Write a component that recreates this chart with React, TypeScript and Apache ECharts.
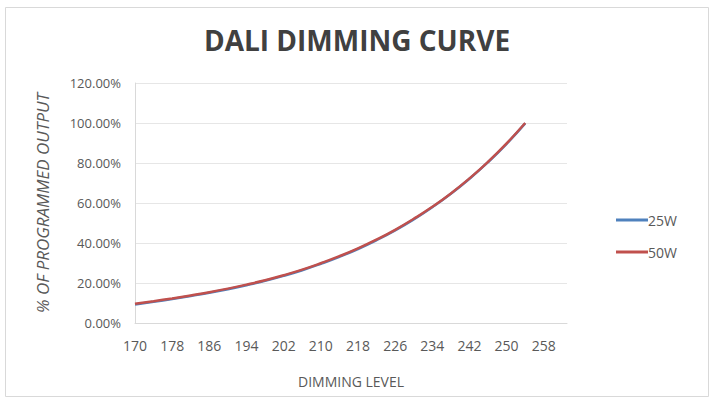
import React, { useEffect, useRef } from "react";
import * as echarts from "echarts";

const levels: string[] = [];
for (let n = 170; n <= 263; n++) levels.push(String(n));

const pointLevels = [170, 174, 178, 182, 186, 190, 194, 198, 202, 206, 210, 214, 218, 222, 226, 230, 234, 238, 242, 246, 250, 254];
const values25W = [9.3, 10.6, 12.0, 13.5, 15.1, 16.9, 18.9, 21.1, 23.6, 26.4, 29.6, 33.1, 37.0, 41.4, 46.3, 51.8, 57.9, 64.6, 72.1, 80.4, 89.6, 99.8];
const values50W = [9.6, 10.9, 12.3, 13.8, 15.4, 17.2, 19.2, 21.4, 23.9, 26.7, 29.9, 33.4, 37.3, 41.7, 46.6, 52.1, 58.1, 64.8, 72.3, 80.6, 89.8, 100.0];
const seriesNames = ["25W", "50W"];

export default function App() {
  const ref = useRef<HTMLDivElement>(null);
  useEffect(() => {
    if (!ref.current) return;
    const chart = echarts.init(ref.current, undefined, { renderer: "svg" });
    const font = "'Open Sans', 'Noto Sans', sans-serif";
    const toPairs = (vals: number[]) => pointLevels.map((l, i) => [String(l), vals[i]]);
    chart.setOption({
      animation: false,
      backgroundColor: "#ffffff",
      graphic: [
        {
          type: "rect",
          shape: { x: 5.5, y: 7.5, width: 703, height: 389 },
          style: { fill: "none", stroke: "#d9d9d9", lineWidth: 1 },
          silent: true,
        },
      ],
      title: {
        text: "DALI DIMMING CURVE",
        left: "center",
        top: 21,
        textStyle: { fontFamily: font, fontSize: 28, fontWeight: "bold", color: "#404040" },
      },
      legend: {
        orient: "vertical",
        left: 611,
        top: 208,
        itemWidth: 32,
        itemHeight: 3,
        itemGap: 18,
        icon: "rect",
        data: seriesNames,
        textStyle: { fontFamily: font, fontSize: 14, color: "#595959", padding: [0, 0, 0, -5] },
      },
      grid: { left: 135, right: 147, top: 83, bottom: 77 },
      xAxis: {
        type: "category",
        data: levels,
        boundaryGap: false,
        name: "DIMMING LEVEL",
        nameLocation: "middle",
        nameGap: 51,
        nameTextStyle: { fontFamily: font, fontSize: 14, color: "#595959" },
        axisLine: { show: true, lineStyle: { color: "#d9d9d9" } },
        axisTick: { show: false },
        axisLabel: { interval: 7, fontFamily: font, fontSize: 14, color: "#595959", margin: 15 },
        splitLine: { show: false },
      },
      yAxis: {
        type: "value",
        min: 0,
        max: 120,
        interval: 20,
        name: "% OF PROGRAMMED OUTPUT",
        nameLocation: "middle",
        nameGap: 84,
        nameRotate: 90,
        nameTextStyle: { fontFamily: font, fontSize: 17, fontStyle: "italic", color: "#595959" },
        axisLine: { show: true, lineStyle: { color: "#d9d9d9" } },
        axisTick: { show: false },
        axisLabel: {
          fontFamily: font,
          fontSize: 13,
          color: "#595959",
          margin: 14,
          formatter: (v: number) => v.toFixed(2) + "%",
        },
        splitLine: { show: true, lineStyle: { color: "#e6e6e6" } },
      },
      series: [
        {
          name: seriesNames[0],
          type: "line",
          data: toPairs(values25W),
          symbol: "none",
          smooth: true,
          lineStyle: { color: "#4F81BD", width: 2.5 },
          itemStyle: { color: "#4F81BD" },
        },
        {
          name: seriesNames[1],
          type: "line",
          data: toPairs(values50W),
          symbol: "none",
          smooth: true,
          lineStyle: { color: "#C0504D", width: 2.5 },
          itemStyle: { color: "#C0504D" },
        },
      ],
    });
    return () => chart.dispose();
  }, []);
  return <div ref={ref} style={{ position: "fixed", left: 0, top: 0, width: 714, height: 400 }} />;
}
